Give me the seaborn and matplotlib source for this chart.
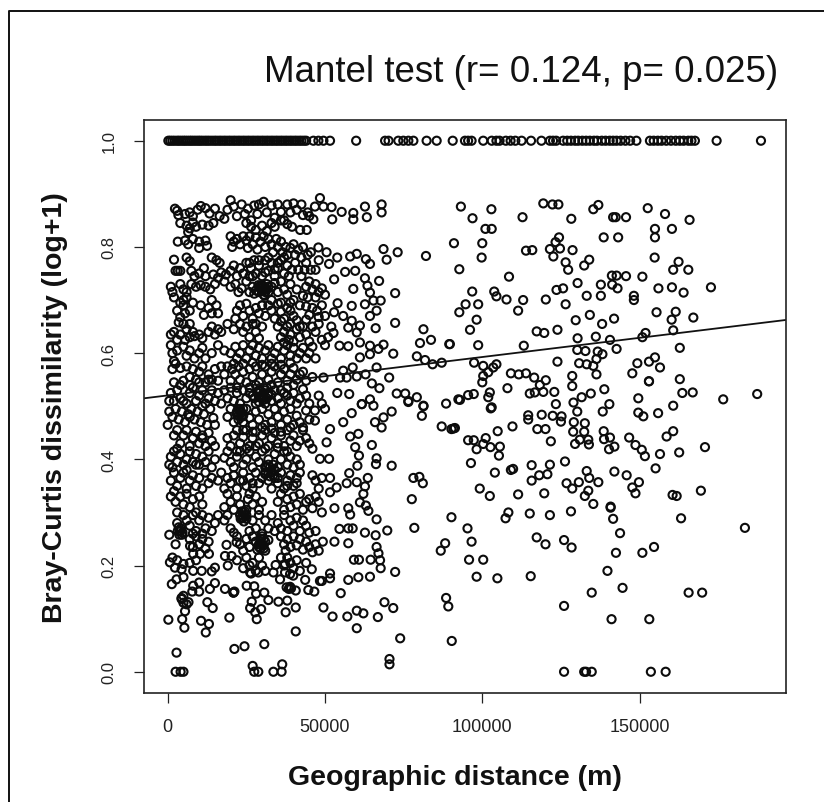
import matplotlib
matplotlib.use("Agg")
import matplotlib.pyplot as plt
from matplotlib.lines import Line2D
import pandas as pd
import seaborn as sns

title = "Mantel test (r= 0.124, p= 0.025)"
x_label = "Geographic distance (m)"
y_label = "Bray-Curtis dissimilarity (log+1)"
x_ticks = [0, 50000, 100000, 150000]
y_ticks = [0.0, 0.2, 0.4, 0.6, 0.8, 1.0]
fit_intercept = 0.5204
fit_slope_per_m = 0.000000723

# distances (km) of the pairs with dissimilarity exactly 1.0
one_km = [0.2,0.8,1.5,2.2,3,3.6,4.3,5,5.6,6.3,7,7.6,8.3,9,9.7,10.3,11,11.8,12.5,13.2,14,14.8,15.5,16.3,17,17.8,18.5,19.3,20,20.8,21.5,22.3,23,23.8,24.5,25.3,26,26.8,27.5,28.3,29,29.8,30.5,31.3,32,32.8,33.5,34.3,35,35.8,36.5,37.3,38,38.8,39.5,40.3,41,41.8,42.5,43.3,44,46.3,47.9,49.5,51.6,59.9,69.1,70.2,73.3,74.9,76.5,78.1,82.3,85.5,90.6,94.5,95.5,96.6,100.3,103,104.5,105.5,107.5,109,110.5,112.5,115.5,118.8,121.5,122.5,123.5,125.7,127,128.2,129.5,130.5,131.8,133,134.2,135.5,136.5,138,139.2,140.5,141.6,142.7,144,145.5,147,149,153.3,154.5,155.8,157,158.5,160,161.5,162.8,164,165.5,166.5,167.6,174.5,188.6]
zero_km = [2.5,4.1,5,27.5,28.8,33.6,36.2,126,132.4,133,134.8,153.6,158.3]

# (km, dissimilarity)
far_points = [(93.2,.876),(96.9,.854),(102.9,.871),(101,.834),(103,.834),(91,.807),(100,.807),(99.8,.78),(92.7,.758),(108.5,.744),(112.8,.856),(119.4,.882),(122.3,.88),(124.2,.88),(128.3,.853),(135.3,.871),(136.9,.879),(141.6,.856),(142.4,.856),(145.7,.856),(152.6,.873),(158.1,.862),(165.9,.851),(154.9,.834),(160.3,.834),(154.9,.818),(138.6,.818),(143.2,.818),(124.4,.818),(123.3,.809),(121.5,.796),(124.7,.797),(128.7,.794),(113.9,.793),(115.9,.794),(122.6,.782),(126.5,.771),(134,.776),(132.4,.765),(127.3,.757),(154.8,.78),(162.4,.772),(160.7,.757),(165.5,.757),(141.2,.746),(142.7,.746),(145.7,.745),(150.9,.744),(130.3,.732),(137.7,.729),(141.3,.729),(143,.722),(156,.722),(160.3,.724),(164,.714),(172.7,.724),(123.6,.719),(125.7,.722),(133.2,.708),(137.7,.708),(148.2,.708),(148.2,.7),(120.2,.701),(126.5,.692),(96.8,.716),(103.8,.716),(104.5,.707),(107.7,.701),(113,.7),(94.7,.692),(98.7,.692),(92.7,.677),(111.4,.68),(155.4,.677),(161.5,.678),(134.2,.672),(141.9,.665),(167.1,.667),(98.2,.663),(129.7,.662),(138.1,.655),(160.2,.663),(96.1,.644),(117.3,.641),(119.7,.638),(123.9,.644),(160.7,.643),(151.9,.638),(150.9,.63),(130.3,.628),(136.1,.631),(140.6,.625),(98.7,.615),(113.2,.614),(89.7,.617),(130.2,.606),(132.8,.604),(142.7,.608),(162.8,.61),(136.7,.603),(138.2,.598),(136.3,.589),(123.9,.584),(97.4,.582),(100.3,.576),(104.5,.579),(103.5,.573),(101.9,.564),(100.3,.557),(100,.545),(130.8,.581),(133.2,.579),(135.3,.576),(154.9,.592),(153,.584),(156.5,.573),(149.3,.581),(147.7,.562),(136.3,.56),(109.1,.562),(111.6,.56),(113.9,.562),(116.5,.554),(120.2,.549),(118.3,.54),(128.6,.557),(128.6,.538),(162.8,.551),(153,.547),(153,.547),(108,.534),(138.8,.532),(163.6,.525),(166.9,.526),(122.9,.527),(119.4,.527),(116.7,.526),(115.1,.524),(134.5,.524),(131.6,.517),(129,.507),(102.4,.526),(101.9,.517),(97.3,.523),(95.5,.521),(92.9,.512),(149.6,.515),(176.6,.513),(187.4,.523),(123.4,.504),(140.4,.504),(160.7,.501),(103,.498),(102.7,.496),(130.2,.49),(138.3,.49),(149.6,.488),(151.2,.481),(155.9,.487),(114.6,.483),(114.6,.475),(118.9,.484),(122.4,.482),(125.2,.481),(125,.471),(129.1,.47),(132.6,.468),(109.6,.462),(117.5,.457),(120.1,.457),(104.9,.453),(91.3,.459),(90.2,.457),(128.9,.452),(132.4,.452),(138.6,.453),(160.7,.453),(158.6,.443),(95.5,.436),(97.3,.436),(100.3,.429),(101.1,.44),(98.2,.419),(102.6,.423),(105.6,.424),(105.3,.407),(121.8,.434),(138.7,.438),(140.6,.441),(129.5,.429),(131,.437),(133.7,.437),(133.9,.428),(140.3,.419),(142,.424),(146.7,.441),(148.7,.427),(150.7,.418),(151.7,.406),(156.5,.41),(162.6,.413),(170.8,.423),(96.4,.393),(126.3,.396),(121.5,.39),(115.7,.389),(155.1,.383),(104,.375),(109.1,.38),(109.8,.382),(118.1,.37),(120.7,.372),(115.7,.36),(133.2,.378),(142,.377),(145.9,.37),(134,.365),(136.9,.357),(126.8,.355),(130.7,.357),(128.6,.345),(149.8,.357),(147.7,.347),(148.7,.336),(99.2,.345),(102.4,.331),(111.4,.334),(119.7,.336),(133.7,.341),(132.6,.331),(160.5,.333),(161.8,.331),(169.5,.341),(135.3,.316),(140.8,.311),(140.8,.309),(108.3,.3),(107.4,.289),(115.1,.298),(121.5,.295),(128.2,.302),(141.6,.288),(163.2,.289),(90.2,.291),(183.5,.271),(95.3,.27),(143.8,.261),(96.6,.245),(117.3,.253),(120.1,.24),(126,.248),(128.4,.234),(154.6,.235),(150.9,.224),(142.5,.224),(95.8,.211),(100.3,.211),(139.8,.19),(98.2,.179),(104.8,.176),(115.4,.18),(144.6,.158),(134.8,.149),(165.6,.149),(169.9,.149),(126,.124),(141.1,.099),(153.1,.099)]

mid_points = [(48.4,.892),(68,.88),(68,.865),(62.7,.876),(63.3,.856),(59,.864),(59,.852),(55.3,.866),(52.3,.852),(52.1,.875),(46.8,.876),(49.5,.876),(46.3,.852),(44.2,.832),(42.1,.832),(68.6,.796),(73.1,.79),(69.6,.776),(82.1,.783),(47.9,.799),(50.5,.79),(53.9,.78),(51.3,.768),(58,.782),(60.1,.787),(63,.777),(64.3,.768),(56.4,.753),(59.6,.755),(62.7,.741),(67.2,.736),(52.9,.739),(59,.721),(72.3,.713),(63.5,.727),(64.3,.714),(65.4,.699),(67.7,.699),(62.7,.692),(66.4,.68),(58.5,.689),(54,.694),(55.8,.67),(52.9,.677),(72.3,.657),(66.1,.647),(58.5,.661),(61.1,.652),(57.4,.648),(60.1,.639),(52.7,.638),(64.3,.67),(81.3,.645),(83.7,.625),(80.2,.619),(89.5,.617),(68.6,.616),(71.7,.599),(54.6,.614),(57.4,.613),(61.1,.62),(64.3,.614),(67,.608),(64.3,.598),(61.1,.592),(79.2,.594),(81.8,.587),(84.2,.579),(87.1,.582),(66.4,.573),(55.8,.567),(58.8,.573),(54.8,.554),(56.9,.554),(60.1,.556),(62.9,.56),(70.4,.554),(49.5,.554),(64.9,.543),(67.3,.534),(53.9,.525),(57.7,.523),(72.8,.524),(75.5,.524),(76.5,.508),(79.2,.517),(81.3,.501),(88.5,.505),(92.4,.513),(61.7,.504),(64.3,.513),(76.5,.51),(81.3,.5),(80.8,.482),(87.1,.462),(90.8,.458),(71.2,.49),(68.6,.479),(65.9,.47),(68,.46),(61.7,.504),(65.4,.501),(58.5,.487),(55.8,.47),(51.6,.457),(46.8,.492),(46.8,.473),(58,.443),(60.6,.448),(50.5,.432),(64.9,.427),(59.6,.423),(60.8,.407),(66.4,.402),(66.2,.391),(71.2,.388),(60.3,.388),(48.4,.401),(51.3,.401),(57.7,.374),(63.6,.365),(60.1,.357),(62.7,.349),(78.1,.365),(80,.367),(81.1,.355),(77.6,.325),(56.9,.355),(51.6,.365),(53.7,.347),(51.6,.338),(62.2,.335),(61.1,.319),(63,.313),(63.8,.303),(66.4,.287),(57.4,.308),(58,.296),(53,.308),(78.4,.271),(69.8,.266),(66.1,.257),(62.7,.262),(54.6,.269),(57.4,.27),(58.8,.27),(57.4,.242),(53,.245),(49.3,.245),(66.4,.235),(67,.223),(88.2,.242),(86.8,.228),(59.2,.211),(60.8,.211),(64.5,.211),(67.5,.21),(67.7,.195),(72.3,.188),(51.6,.185),(51.6,.176),(48.4,.171),(64.3,.179),(60.6,.178),(57.4,.173),(55,.148),(68.9,.131),(71.7,.12),(88.5,.139),(89.2,.123),(49.5,.121),(52.4,.104),(57.1,.104),(60.1,.115),(62.2,.11),(66.8,.103),(60.1,.082),(73.9,.063),(90.3,.058),(70.5,.024),(70.5,.014)]

low_points = [(.2,.098),(4.6,.099),(5.3,.083),(10.6,.096),(13.1,.09),(12.1,.074),(19.6,.102),(2.8,.036),(21.2,.043),(24.4,.048),(30.7,.052),(40.7,.076),(27,.011),(36.4,.014),(26.2,.12),(27.8,.112),(29.7,.118),(28.3,.099),(26.7,.132),(32,.135),(35.2,.132),(38,.134),(40.7,.121),(37.5,.112),(12.6,.131),(14.3,.12),(5.5,.114),(6.6,.131),(4.4,.139),(5,.143),(4.4,.137),(5,.13),(6,.127),(7.8,.151),(10,.151),(13.4,.156),(15,.167),(8.1,.162),(10,.168),(18.2,.156),(20.9,.149),(25.1,.162),(27.5,.161),(28.1,.147),(30.7,.149),(37.8,.159),(40.7,.153),(43.7,.173),(44.7,.154),(46.6,.151),(1.3,.165),(2.8,.174),(5,.178),(8.1,.19),(10.8,.19),(14,.189),(15,.196),(.7,.206),(2.3,.196),(5,.203),(4.4,.193),(.5,.258),(2.5,.24),(3.9,.265),(7.1,.237),(8.1,.222),(10.3,.222),(13.1,.222),(18.7,.239),(18.2,.218),(20.3,.218),(19.1,.2),(21.9,.244),(26.2,.187),(28.8,.187),(33.6,.187),(34.3,.201),(37.3,.203),(37.3,.187),(35.7,.174),(38.9,.184),(39.9,.181),(45.8,.193),(49,.171),(38.7,.158),(38.9,.16),(38.5,.156),(39.2,.157),(20.9,.149),(21.2,.151)]

dense_upper = [(2.3,.872),(3,.868),(3.4,.86),(5.5,.862),(7,.865),(8,.858),(9.5,.87),(10.5,.877),(12,.873),(13.3,.863),(15,.872),(16.5,.858),(18,.853),(19,.87),(20,.888),(21,.876),(22,.858),(23.5,.88),(24.5,.862),(25.5,.872),(26.5,.85),(27.5,.878),(28.5,.862),(29,.88),(30.5,.885),(31.5,.865),(33,.878),(34,.855),(35,.88),(36,.866),(37,.85),(38,.88),(39,.865),(40,.882),(41,.87),(42.5,.88),(43,.86),(44.5,.865),(45,.858),(4,.845),(6,.84),(7,.835),(8,.846),(6.5,.828),(9,.838),(11,.842),(13,.84),(14.5,.845),(25,.845),(26.5,.838),(28,.832),(30,.84),(31.5,.83),(33,.845),(34,.838),(36,.85),(38,.843),(39.5,.838),(3.2,.81),(5.5,.812),(6.5,.805),(8,.815),(10,.81),(12,.812),(10,.798),(12.5,.802),(20,.82),(21,.81),(20.5,.8),(22,.815),(23,.805),(24,.82),(25,.812),(25.5,.798),(26,.82),(27,.805),(28,.818),(28.5,.795),(29.5,.81),(30.5,.82),(31,.8),(32,.815),(33,.805),(33.5,.79),(34.5,.815),(35,.8),(36,.81),(36.5,.79),(37.5,.8),(38,.785),(39,.798),(40,.805),(40.5,.785),(41.5,.795),(42.5,.78),(43,.8),(44.5,.785),(45.5,.79),(2,.776),(2.5,.755),(3.2,.755),(4,.755),(6,.78),(7,.773),(7.5,.755),(8.5,.745),(10,.75),(11.5,.76),(12,.745),(14,.78),(15.5,.775),(16.5,.77),(14.5,.748),(16,.742),(17,.752),(18.5,.748),(20,.755),(21,.765),(22,.745),(23,.76),(24,.75),(25,.77),(26,.745),(26.5,.76),(27.5,.775),(28,.75),(29,.765),(30,.745),(31,.775),(32,.755),(33,.77),(34,.745),(35,.76),(36,.775),(37,.75),(38,.765),(38.5,.745),(39.5,.757),(40.5,.77),(41.5,.757),(42.5,.745),(43.5,.757),(44,.77),(45.5,.757),(47,.757),(48,.775),(1,.725),(1.5,.715),(2,.705),(4,.73),(5,.72),(6,.715),(7.5,.73),(9,.725),(10.5,.728),(12,.725),(13.5,.72),(15,.73),(18,.735),(20,.725),(21.5,.73),(22.5,.715),(23.5,.722),(25,.735),(26,.715),(27,.725),(28,.718),(29,.725),(30,.718),(30.5,.71),(31,.722),(32,.715),(33,.725),(34,.732),(35,.715),(36,.735),(37,.72),(38,.71),(39,.73),(40,.7),(41,.72),(44,.725),(45,.735),(46,.72),(47,.73),(48,.715),(49,.722),(43,.708),(44.5,.705),(47,.705),(50,.71),(5,.7),(4,.695),(6,.705),(3,.68),(4,.668),(5,.69),(5.5,.675),(7,.68),(8,.695),(10.5,.69),(11.5,.672),(13,.685),(14,.7),(15.5,.69),(14,.675),(16,.675),(22,.68),(23,.69),(21.5,.665),(24,.67),(25,.693),(26,.68),(27,.665),(28,.685),(29,.675),(30,.69),(31,.67),(32,.69),(33,.68),(34,.665),(35,.693),(36,.678),(37,.665),(38,.685),(39,.695),(40,.67),(41,.662),(42,.69),(44,.688),(45,.672),(46,.685),(47.5,.68),(49,.69),(50,.67),(48,.668),(44,.663)]

dense_middle = [(3.5,.658),(5,.655),(6,.645),(7,.655),(8,.64),(1,.635),(2,.64),(3,.625),(4,.635),(5.5,.625),(7,.63),(8.5,.632),(10,.635),(11,.628),(13,.64),(14,.65),(15,.635),(16,.645),(17,.64),(19,.655),(21,.645),(23,.655),(24,.64),(25,.65),(26,.63),(27,.655),(28,.64),(29,.628),(30,.65),(35,.65),(36,.63),(37,.62),(38,.65),(39,.635),(40,.622),(41,.645),(42,.63),(43,.65),(44,.635),(45,.622),(46,.65),(47,.64),(48,.655),(49,.625),(51,.63),(52,.65),(37,.64),(38.5,.625),(1,.615),(1.5,.6),(2,.585),(3,.605),(5,.612),(6,.595),(7,.605),(8.5,.59),(10,.6),(11,.61),(12,.59),(14,.6),(16,.615),(18,.605),(20,.6),(21.5,.612),(22,.59),(23,.6),(24,.615),(25,.59),(26,.605),(27,.615),(28,.595),(29,.61),(30,.59),(31,.605),(32,.615),(33,.59),(34,.6),(35,.612),(36,.59),(37,.605),(38,.615),(39,.595),(40,.61),(41,.59),(42,.6),(43,.61),(44,.59),(45,.6),(46,.612),(47,.59),(50,.615),(2.5,.58),(1.5,.57),(4,.572),(6,.575),(7,.555),(8,.57),(9,.55),(10,.565),(11,.575),(12,.545),(13,.56),(14,.55),(15,.57),(16,.548),(17,.575),(18,.56),(19,.575),(20,.548),(20.5,.57),(21.5,.56),(22.5,.575),(23,.55),(24,.565),(25,.545),(26,.57),(27,.555),(28,.575),(29,.545),(30,.56),(31,.575),(32,.55),(33,.565),(34,.575),(35,.545),(36,.56),(37,.57),(38,.548),(39,.56),(40,.572),(41,.55),(42,.56),(43,.565),(44,.548),(46,.555),(2,.545),(4,.54),(5,.548),(.5,.51),(1,.525),(2,.51),(3,.53),(4,.515),(5,.51),(6,.505),(7,.525),(8,.535),(9,.51),(10,.52),(11,.53),(12,.505),(13,.515),(14,.53),(15,.51),(16,.525),(17,.505),(18,.53),(19,.515),(20,.535),(21,.51),(22,.525),(23,.505),(24,.53),(25,.515),(26,.535),(27,.52),(28,.505),(29,.53),(30,.515),(30.5,.525),(31,.505),(31.5,.535),(32,.52),(33,.51),(34,.53),(35,.515),(36,.505),(37,.525),(38,.535),(39,.51),(40,.525),(41,.505),(42,.515),(43,.532),(44,.52),(45,.505),(48,.52),(49,.505),(50,.495),(.5,.49),(1.5,.48),(2.5,.495),(3.5,.475),(4.5,.49),(5.5,.47),(6.5,.485),(7.5,.495),(8.5,.475),(9.5,.49),(10.5,.47),(11.5,.485),(12.5,.465),(13.5,.495),(14.5,.478),(15,.465),(19,.48),(20,.495),(21,.47),(22,.485),(23,.49),(23.5,.48),(22.5,.495),(24,.47),(25,.495),(26,.478),(27,.465),(28,.49),(29,.475),(30,.495),(31,.465),(32,.485),(33,.47),(34,.495),(35,.48),(36,.465),(37,.49),(38,.475),(39,.495),(40,.465),(41,.482),(42,.47),(44,.492),(45,.475),(0,.465),(43,.46)]

dense_lower = [(2,.445),(3,.455),(4,.43),(5,.445),(6,.455),(7,.425),(8,.44),(9,.452),(10,.43),(11,.445),(12,.425),(13,.45),(14,.435),(15,.425),(19,.44),(20,.425),(21,.445),(22,.455),(23,.43),(24,.442),(25,.455),(26,.425),(27,.44),(28,.452),(29,.43),(30,.445),(31,.455),(32,.425),(33,.44),(34,.45),(35,.43),(36,.445),(37,.425),(38,.455),(39,.435),(40,.445),(41,.425),(42,.435),(43,.455),(44,.44),(45,.43),(46,.42),(1,.405),(2,.415),(3,.395),(4,.41),(5,.39),(6,.4),(7,.415),(8,.395),(9,.41),(10,.39),(11,.405),(12,.395),(13,.415),(14,.385),(15,.4),(18,.403),(19,.415),(20,.395),(21,.385),(22,.405),(23,.415),(24,.39),(25,.4),(26,.415),(27,.385),(28,.405),(29,.395),(30,.415),(31,.385),(32,.4),(32.5,.385),(33,.375),(33.5,.39),(34,.41),(35,.385),(36,.4),(37,.415),(38,.39),(39,.405),(40,.385),(41,.4),(42,.39),(.5,.39),(1.5,.385),(1,.36),(2,.375),(3,.35),(4,.365),(5,.375),(6,.345),(7,.36),(8,.37),(9,.35),(10,.365),(11,.345),(12,.375),(13,.355),(14,.365),(16,.36),(17,.375),(18,.345),(19,.365),(20,.355),(21,.37),(22,.345),(23,.36),(24,.375),(25,.35),(26,.365),(27,.345),(28,.375),(29,.355),(30,.365),(31,.375),(32,.36),(33,.345),(34,.365),(35,.355),(36,.375),(37,.345),(38,.36),(39,.37),(40,.35),(41,.365),(42,.375),(46,.37),(47,.36),(48,.345),(49,.365),(1,.33),(2,.34),(2.5,.32),(3,.3),(4,.33),(5,.315),(6,.335),(7,.31),(8,.325),(9,.3),(10,.33),(11,.315),(18,.31),(19,.335),(20,.32),(21,.305),(22,.33),(23,.315),(24,.3),(24.5,.295),(23.5,.29),(25,.305),(25.5,.325),(26,.335),(27,.315),(28,.33),(29,.305),(30,.32),(35,.32),(36,.335),(37,.305),(38,.325),(39,.31),(40,.33),(41,.315),(42,.335),(43,.305),(44,.32),(45,.325),(46,.308),(47,.33),(48,.32),(49,.3),(3,.28),(4,.265),(3.5,.272),(4.5,.258),(5,.295),(6,.285),(7,.275),(8,.295),(9,.265),(10,.285),(11,.295),(12,.27),(13,.29),(14,.265),(15,.28),(16,.295),(18,.285),(19,.295),(20,.27),(21,.262),(26,.265),(27,.285),(28,.27),(29,.295),(30,.26),(31,.285),(32,.27),(33,.295),(34,.265),(35,.28),(36,.27),(37,.295),(38,.265),(39,.285),(40,.275),(41,.29),(42,.265),(43,.285),(44,.275),(45,.262),(47,.265),(7,.25),(8,.235),(9,.255),(10,.24),(11,.25),(12,.232),(13,.245),(22,.255),(23,.24),(24,.228),(25,.25),(26,.235),(27,.255),(28,.245),(29,.235),(29.5,.245),(30,.255),(30.5,.238),(31,.228),(32,.248),(36,.255),(37,.24),(37.5,.228),(38,.25),(39,.235),(40,.255),(41,.238),(42,.25),(43,.23),(44,.245),(45,.235),(46,.225),(47,.24),(48,.228),(1.5,.215),(3,.21),(7,.205),(9,.21),(22,.21),(24,.195),(25,.215),(26,.2),(26.5,.185),(27,.205),(28,.19),(29,.215),(30,.2),(31,.19),(36,.215),(37,.2),(38,.215),(39,.205),(40,.195),(41,.21),(42,.19),(44,.205)]

dense_blobs = [(29.5,.722),(30,.718),(30.5,.725),(31,.715),(31.5,.72),(30,.728),(29,.715),(32,.725),(30.8,.708),(28.8,.728),(31.5,.73),(27.5,.712),(28.5,.525),(29,.518),(29.5,.528),(30,.52),(30.5,.512),(31,.53),(31.5,.515),(32,.525),(29,.508),(30.5,.535),(27.5,.515),(33,.522),(23,.295),(23.5,.302),(24,.29),(24.5,.302),(25,.295),(23.2,.288),(25,.288),(24.2,.283),(29,.24),(29.5,.232),(30,.24),(30.5,.232),(31,.245),(29.5,.25),(28.5,.23),(30.5,.25),(31.5,.385),(32,.375),(32.5,.368),(33,.38),(33.5,.37),(32,.39),(34,.38),(31,.372),(22,.49),(22.5,.483),(23,.495),(23.5,.488),(24,.482),(22.5,.475),(24,.495),(3.2,.265),(3.7,.258),(4.2,.27),(4.7,.262),(21,.58),(24,.58),(27,.582),(30,.578),(33,.58),(36,.578),(39,.582),(22,.535),(26,.525),(28,.54),(33,.54),(36,.53),(38,.52),(40,.54),(24,.455),(27,.452),(30,.46),(33,.458),(36,.452),(39,.46),(22,.415),(25,.42),(28,.425),(31,.42),(35,.422),(38,.415),(21,.37),(24,.36),(27,.355),(35,.365),(38,.35),(41,.355),(26,.77),(29,.775),(32,.78),(35,.77),(27,.745),(31,.752),(34,.758),(37,.78),(30,.69),(33,.7),(36,.695),(39,.68),(28,.655),(36,.66),(39,.655),(42,.65),(10,.545),(13,.55),(7,.48),(11,.5),(7,.54),(8,.44),(11,.44),(3,.42),(6,.38),(9,.39),(8,.26),(11,.26)]

pairs = (far_points + mid_points + low_points + dense_upper + dense_middle + dense_lower + dense_blobs
         + [(k, 1.0) for k in one_km] + [(k, 0.0) for k in zero_km])
df = pd.DataFrame(pairs, columns=["km", "dissimilarity"])
df["distance"] = df["km"] * 1000

W, H = 824, 803
sns.set_theme(style="white")
plt.rcParams["font.family"] = ["Liberation Sans", "DejaVu Sans"]
fig = plt.figure(figsize=(W / 100, H / 100), dpi=100, facecolor="white")
ax = fig.add_axes([143.5 / W, (H - 694) / H, 642 / W, 573.3 / H])

sns.scatterplot(data=df, x="distance", y="dissimilarity", ax=ax, marker="o", s=34,
                facecolor="none", edgecolor="#0c0c0c", linewidth=1.5, legend=False, clip_on=False)
ax.axline((0, fit_intercept), slope=fit_slope_per_m, color="#111111", lw=1.3)

ax.set_xlim(-7700, 196400)
ax.set_ylim(-0.040, 1.0396)
ax.set_xticks(x_ticks)
ax.set_xticklabels([str(t) for t in x_ticks])
ax.set_yticks(y_ticks)
ax.set_yticklabels([f"{t:.1f}" for t in y_ticks], rotation=90, va="center")
ax.tick_params(axis="x", length=7.2, width=0.9, color="#222222", pad=10.5, labelsize=13, labelcolor="#222222", bottom=True)
ax.tick_params(axis="y", length=7.2, width=0.9, color="#222222", pad=12, labelsize=12, labelcolor="#222222", left=True)
ax.set_xlabel("")
ax.set_ylabel("")
for s in ax.spines.values():
    s.set_color("#222222")
    s.set_linewidth(1.2)

fig.text(521.5 / W, 1 - 72 / H, title, ha="center", va="center", fontsize=26.5, color="#111111")
fig.text(455 / W, 1 - 778 / H, x_label, ha="center", va="center", fontsize=20.5, fontweight="bold", color="#111111")
fig.text(55 / W, 1 - 408 / H, y_label, ha="center", va="center", rotation=90, fontsize=20.5, fontweight="bold", color="#111111")

fig.add_artist(Line2D([8.5 / W, 8.5 / W, 1], [0, 1 - 12 / H, 1 - 12 / H], transform=fig.transFigure,
                      color="#111111", lw=1.4))
fig.savefig("out.png", dpi=100)
